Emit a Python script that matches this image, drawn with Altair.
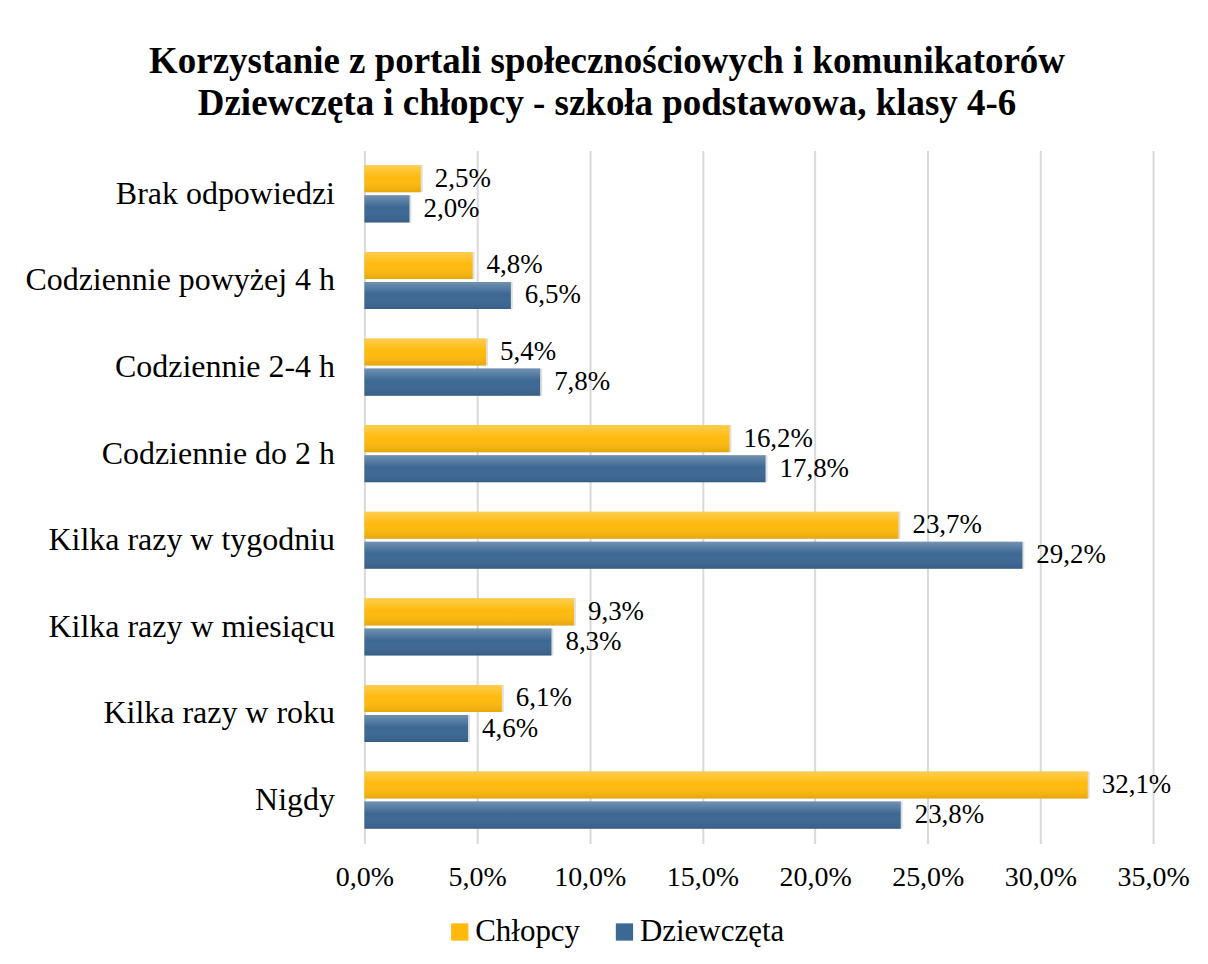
import altair as alt
import pandas as pd

categories = ["Brak odpowiedzi", "Codziennie powyżej 4 h", "Codziennie 2-4 h",
              "Codziennie do 2 h", "Kilka razy w tygodniu", "Kilka razy w miesiącu",
              "Kilka razy w roku", "Nigdy\u00a0"]
series = ["Chłopcy", "Dziewczęta"]
chlopcy = [2.5, 4.8, 5.4, 16.2, 23.7, 9.3, 6.1, 32.1]
dziewczeta = [2.0, 6.5, 7.8, 17.8, 29.2, 8.3, 4.6, 23.8]
x_ticks = [0, 5, 10, 15, 20, 25, 30, 35]

rows = []
for c, a, b in zip(categories, chlopcy, dziewczeta):
    rows.append({"kat": c, "plec": series[0], "val": a})
    rows.append({"kat": c, "plec": series[1], "val": b})
df = pd.DataFrame(rows)

FONT = "Liberation Serif"

y_enc = alt.Y("kat:N", sort=categories, title=None,
              scale=alt.Scale(paddingInner=0, paddingOuter=0),
              axis=alt.Axis(labelFont=FONT, labelFontSize=32, labelColor="#000000",
                            labelPadding=30, domain=False, ticks=False, labelLimit=500))
yoff_enc = alt.YOffset("plec:N", sort=series,
                       scale=alt.Scale(domain=series, paddingInner=0.1, paddingOuter=0.49))
x_enc = alt.X("val:Q", title=None,
              scale=alt.Scale(domain=[0, 35], nice=False),
              axis=alt.Axis(values=x_ticks, labelFont=FONT, labelFontSize=28,
                            labelColor="#000000", labelPadding=20, labelFlush=False,
                            labelExpr="replace(format(datum.value, '.1f'), '.', ',') + '%'",
                            domain=False, ticks=False, grid=True,
                            gridColor="#d9d9d9", gridWidth=2))

base = alt.Chart(df).encode(y=y_enc, yOffset=yoff_enc, x=x_enc)

shadow = base.mark_bar(color="#000000", opacity=0.12, xOffset=2, yOffset=3)

bars = base.mark_bar().encode(
    color=alt.Color("plec:N", sort=series,
                    scale=alt.Scale(domain=series, range=["#FFBA0D", "#3C6894"]),
                    legend=alt.Legend(title=None, orient="none", direction="horizontal",
                                      legendX=80, legendY=767,
                                      labelFont=FONT, labelFontSize=31, labelColor="#000000",
                                      symbolType="square", symbolSize=300,
                                      symbolStrokeWidth=0, columnPadding=28,
                                      labelOffset=0)))

gloss = base.mark_bar(
    color=alt.LinearGradient(
        gradient="linear",
        stops=[alt.GradientStop(color="rgba(255,255,255,0.28)", offset=0),
               alt.GradientStop(color="rgba(255,255,255,0.0)", offset=0.45),
               alt.GradientStop(color="rgba(0,0,0,0.10)", offset=1)],
        x1=0, x2=0, y1=0, y2=1)
)

labels = base.transform_calculate(
    lbl="replace(format(datum.val, '.1f'), '.', ',') + '%'"
).mark_text(align="left", baseline="middle", dx=14, font=FONT, fontSize=27,
            color="#000000").encode(text="lbl:N")

chart = alt.layer(shadow, bars, gloss, labels).properties(
    width=790, height=694,
    padding={"left": 16, "top": 34, "right": 10, "bottom": 10},
    background="#ffffff",
    title=alt.TitleParams(
        ["Korzystanie z portali społecznościowych i komunikatorów",
         "Dziewczęta i chłopcy - szkoła podstawowa, klasy 4-6"],
        font=FONT, fontSize=37, fontWeight="bold", color="#000000",
        anchor="middle", frame="bounds", lineHeight=42, offset=28)
).configure_view(stroke=None)

chart.save("out.html", embed_options={"renderer": "svg", "actions": False})
